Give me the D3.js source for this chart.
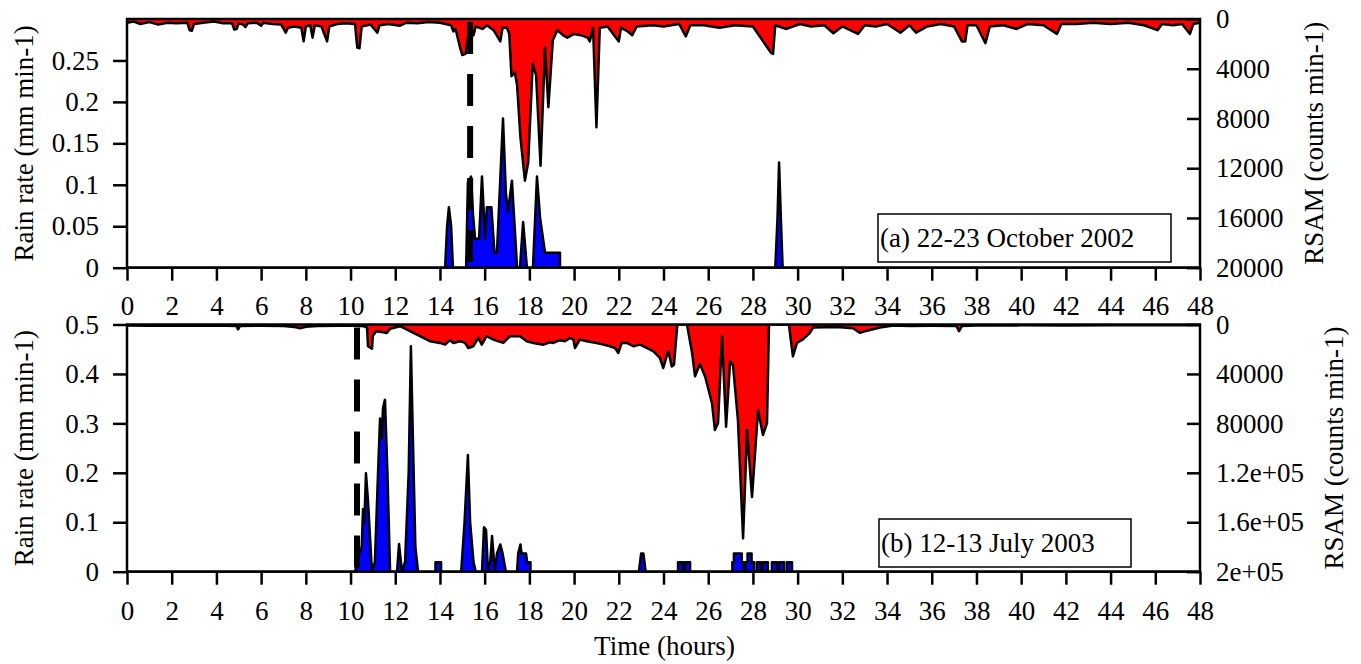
<!DOCTYPE html>
<html>
<head>
<meta charset="utf-8">
<script src="https://cdn.jsdelivr.net/npm/d3@7"></script>
<style>
  html, body { margin: 0; padding: 0; background: #fff; }
  svg { display: block; font-family: "Liberation Serif", "Times New Roman", serif; }
</style>
</head>
<body>
<svg id="chart" width="1361" height="664"></svg>
<script>
// ---- data: [hour, value] ----
const rsamA = [
  [0, 300], [0.3, 200], [0.6, 400], [1.0, 250], [1.4, 450], [1.8, 300], [2.2, 350], [2.7, 300],
  [2.8, 900], [2.9, 950], [3.0, 400], [3.4, 300], [3.9, 200], [4.3, 350], [4.7, 350], [4.8, 850],
  [4.9, 800], [5.0, 350], [5.2, 450], [5.3, 650], [5.4, 350], [5.8, 300], [6.0, 550], [6.1, 300],
  [6.5, 400], [6.9, 450], [7.1, 1100], [7.2, 700], [7.5, 600], [7.8, 700], [7.9, 1800], [8.0, 600],
  [8.2, 500], [8.3, 1500], [8.4, 500], [8.7, 600], [8.95, 1800], [9.05, 600], [9.4, 400], [9.8, 350],
  [10.2, 400], [10.3, 2300], [10.4, 2350], [10.5, 600], [10.9, 450], [11.2, 1100], [11.3, 500],
  [11.7, 400], [12.2, 550], [12.5, 300], [13.0, 350], [13.5, 250], [14.0, 300], [14.5, 500],
  [14.6, 1000], [14.7, 800], [14.9, 2300], [15.0, 2900], [15.15, 2800], [15.3, 1000], [15.5, 1300],
  [15.6, 600], [15.9, 800], [16.1, 500], [16.4, 900], [16.7, 1800], [16.8, 700], [17.0, 700],
  [17.1, 1200], [17.2, 4600], [17.35, 4300], [17.45, 5300], [17.6, 9500], [17.8, 13000],
  [17.95, 11500], [18.15, 3600], [18.3, 4500], [18.5, 11800], [18.7, 2300], [18.85, 7100],
  [19.05, 1700], [19.25, 900], [19.5, 1300], [19.7, 1500], [20.0, 1200], [20.3, 1300], [20.6, 1500],
  [20.7, 1800], [20.85, 700], [21.0, 8700], [21.15, 700], [21.5, 600], [22.0, 1800], [22.1, 700],
  [22.4, 1000], [22.6, 1300], [22.8, 600], [23.5, 500], [24.0, 600], [24.7, 400], [25.0, 1400],
  [25.2, 500], [25.8, 500], [26.5, 700], [27.2, 500], [28.0, 600], [28.8, 2700], [28.9, 2800],
  [29.0, 500], [29.5, 800], [30.1, 400], [30.6, 600], [31.2, 500], [31.6, 1150], [32.0, 600],
  [32.7, 1200], [33.0, 500], [33.5, 600], [34.0, 400], [34.6, 1100], [35.0, 500], [35.3, 1100],
  [35.8, 600], [36.4, 400], [37.0, 600], [37.35, 1800], [37.5, 1800], [37.6, 500], [38.0, 500],
  [38.4, 1950], [38.6, 600], [39.2, 500], [39.8, 800], [40.3, 400], [41.0, 500], [41.6, 1200],
  [41.8, 400], [42.5, 400], [43.2, 300], [44.0, 400], [44.8, 300], [45.5, 500], [46.1, 900],
  [46.3, 400], [46.8, 500], [47.2, 400], [47.55, 1200], [47.7, 400], [48, 300]
];

const rainA = [
  [0, 0], [14.23, 0], [14.32, 0.05], [14.4, 0.073], [14.5, 0.05], [14.58, 0],
  [15.17, 0], [15.25, 0.103], [15.39, 0.11], [15.48, 0.064], [15.57, 0.035], [15.75, 0.035],
  [15.88, 0.11], [16.02, 0.035], [16.1, 0.073], [16.3, 0.073], [16.44, 0.018], [16.55, 0.018],
  [16.82, 0.18], [16.95, 0.09], [17.04, 0.067], [17.22, 0.105], [17.45, 0], [17.58, 0],
  [17.72, 0.055], [17.89, 0], [18.16, 0], [18.34, 0.11], [18.48, 0.06], [18.7, 0.018],
  [19.37, 0.018], [19.37, 0], [29.0, 0], [29.1, 0.06], [29.17, 0.127], [29.25, 0.06],
  [29.33, 0], [48, 0]
];

const rsamB = [
  [0, 800], [1, 1000], [2, 800], [3, 1100], [4, 900], [4.9, 1200], [4.97, 4000], [5.05, 1200],
  [6, 1000], [7, 1200], [7.5, 2000], [7.74, 3000], [8.0, 1800], [8.5, 1200], [9.5, 1000],
  [10.29, 1000], [10.6, 1500], [10.74, 2400], [10.78, 17600], [10.96, 19500], [11.0, 9000],
  [11.15, 5400], [11.4, 6000], [11.62, 6800], [11.77, 3500], [12.21, 1400], [12.51, 4000],
  [12.81, 6800], [13.11, 9500], [13.55, 13500], [14.0, 14900], [14.23, 16300], [14.45, 12700],
  [14.6, 14900], [14.9, 13500], [15.12, 14900], [15.27, 19000], [15.49, 17600], [15.72, 10800],
  [15.87, 16300], [16.09, 9500], [16.39, 12200], [16.83, 14900], [17.13, 9500], [17.58, 9500],
  [17.88, 13500], [18.18, 14900], [18.63, 16300], [18.92, 14400], [19.07, 14900], [19.37, 12700],
  [19.59, 13500], [19.82, 10800], [19.97, 12200], [20.04, 19000], [20.26, 12200], [20.56, 13500],
  [21.01, 14900], [21.31, 16300], [21.61, 17600], [21.83, 19000], [21.98, 23000], [22.13, 14900],
  [22.35, 14900], [22.65, 17600], [22.95, 16300], [23.25, 19000], [23.55, 21700], [23.84, 27100],
  [23.99, 35200], [24.14, 25800], [24.22, 21700], [24.37, 33900], [24.47, 32500], [24.62, 0],
  [25.05, 0], [25.28, 23000], [25.41, 42000],
  [25.63, 32000], [25.86, 42000], [26.17, 63700], [26.3, 85400], [26.44, 79700], [26.62, 9500],
  [26.8, 82700], [26.98, 29800], [27.11, 33000], [27.33, 77200], [27.56, 173000], [27.74, 85400],
  [27.96, 139600], [28.23, 69100], [28.45, 89400], [28.63, 79700], [28.72, 0], [29.61, 0],
  [29.79, 25800], [29.97, 14900], [30.24, 12000], [30.55, 6750], [30.69, 2500], [31.76, 2000],
  [32.48, 3000], [32.79, 6750], [33.1, 5000], [33.69, 2500], [34.27, 800], [35, 1200], [36, 1000],
  [37.1, 1200], [37.22, 5400], [37.35, 1200], [38, 900], [39, 800], [40, 700], [42, 800],
  [44, 700], [46, 600], [48, 600]
];

const rainB = [
  [0, 0], [10.2, 0], [10.35, 0.03], [10.5, 0.05], [10.56, 0.127], [10.62, 0.1], [10.69, 0.199],
  [10.78, 0.144], [10.96, 0], [11.09, 0.02], [11.23, 0.2], [11.32, 0.31], [11.4, 0.27],
  [11.45, 0.33], [11.54, 0.348], [11.65, 0.2], [11.77, 0], [12.08, 0], [12.17, 0.056], [12.3, 0],
  [12.44, 0.02], [12.6, 0.2], [12.7, 0.456], [12.79, 0.27], [12.9, 0.05], [13.02, 0],
  [13.8, 0], [13.8, 0.019], [14.05, 0.019], [14.05, 0], [14.95, 0], [15.1, 0.1], [15.25, 0.236],
  [15.35, 0.1], [15.5, 0.02], [15.6, 0], [15.88, 0], [15.97, 0.09], [16.06, 0.085], [16.15, 0],
  [16.25, 0.02], [16.33, 0.072], [16.42, 0.02], [16.46, 0], [16.55, 0.037], [16.7, 0.055],
  [16.8, 0.037], [16.95, 0], [17.45, 0], [17.5, 0.037], [17.6, 0.055], [17.65, 0.037],
  [17.85, 0.037], [17.9, 0.019], [18.05, 0.019], [18.05, 0],
  [22.9, 0], [22.95, 0.019], [23.0, 0.037], [23.1, 0.037], [23.15, 0.019], [23.2, 0],
  [24.65, 0], [24.65, 0.019], [24.87, 0.019], [24.87, 0], [24.96, 0], [24.96, 0.019],
  [25.19, 0.019], [25.19, 0],
  [27.08, 0], [27.08, 0.019], [27.15, 0.019], [27.15, 0.037], [27.5, 0.037], [27.5, 0.019],
  [27.6, 0.019], [27.6, 0], [27.68, 0], [27.68, 0.019], [27.76, 0.019], [27.76, 0.037],
  [27.94, 0.037], [27.94, 0.019], [28.05, 0.019], [28.05, 0],
  [28.18, 0], [28.18, 0.019], [28.36, 0.019], [28.36, 0], [28.45, 0], [28.45, 0.019],
  [28.67, 0.019], [28.67, 0], [28.85, 0], [28.85, 0.019], [29.08, 0.019], [29.08, 0],
  [29.17, 0], [29.17, 0.019], [29.39, 0.019], [29.39, 0], [29.52, 0], [29.52, 0.019],
  [29.75, 0.019], [29.75, 0], [48, 0]
];

const hourTicks = d3.range(0, 49, 2);
const rainTicksA = [0, 0.05, 0.1, 0.15, 0.2, 0.25];
const rainTicksB = [0, 0.1, 0.2, 0.3, 0.4, 0.5];
const rsamTicksA = [0, 4000, 8000, 12000, 16000, 20000];
const rsamTicksB = [0, 40000, 80000, 120000, 160000, 200000];
const rsamLabelsB = ["0", "40000", "80000", "1.2e+05", "1.6e+05", "2e+05"];

// ---- layout ----
const left = 127, right = 1200;
const fontSize = 27;
const svg = d3.select("#chart");

const x = d3.scaleLinear().domain([0, 48]).range([left, right]);

const panels = [
  {
    id: "a", top: 19, bottom: 267.7, rainMax: 0.3, rsamMax: 20000,
    rain: rainA, rsam: rsamA, rainTicks: rainTicksA, rsamTicks: rsamTicksA,
    rsamFmt: d => String(d), onset: 15.35, xPad: 15.5, rTitleX: 1323,
    label: "(a) 22-23 October 2002", box: [878, 214, 293, 48]
  },
  {
    id: "b", top: 324.5, bottom: 571.7, rainMax: 0.5, rsamMax: 200000,
    rain: rainB, rsam: rsamB, rainTicks: rainTicksB, rsamTicks: rsamTicksB,
    rsamFmt: d => rsamLabelsB[rsamTicksB.indexOf(d)], onset: 10.29, xPad: 16.5, rTitleX: 1343,
    label: "(b) 12-13 July 2003", box: [879, 519, 252, 48]
  }
];

panels.forEach(p => {
  const yRain = d3.scaleLinear().domain([0, p.rainMax]).range([p.bottom, p.top]);
  const yRsam = d3.scaleLinear().domain([0, p.rsamMax]).range([p.top, p.bottom]);

  svg.append("clipPath").attr("id", "clip-" + p.id)
    .append("rect")
    .attr("x", left).attr("y", p.top)
    .attr("width", right - left).attr("height", p.bottom - p.top);

  const g = svg.append("g").attr("clip-path", `url(#clip-${p.id})`);

  // RSAM, hanging from the top
  g.append("path")
    .datum(p.rsam)
    .attr("fill", "#ff0000")
    .attr("d", d3.area().x(d => x(d[0])).y0(yRsam(0)).y1(d => yRsam(d[1])));
  g.append("path")
    .datum(p.rsam)
    .attr("fill", "none")
    .attr("stroke", "#000")
    .attr("stroke-width", 2.5)
    .attr("stroke-linejoin", "round")
    .attr("d", d3.line().x(d => x(d[0])).y(d => yRsam(d[1])));

  // rain rate, from the bottom
  g.append("path")
    .datum(p.rain)
    .attr("fill", "#0000ff")
    .attr("d", d3.area().x(d => x(d[0])).y0(yRain(0)).y1(d => yRain(d[1])));
  g.append("path")
    .datum(p.rain)
    .attr("fill", "none")
    .attr("stroke", "#000")
    .attr("stroke-width", 2.5)
    .attr("stroke-linejoin", "round")
    .attr("d", d3.line().x(d => x(d[0])).y(d => yRain(d[1])));

  // eruption onset marker
  g.append("line")
    .attr("x1", x(p.onset)).attr("x2", x(p.onset))
    .attr("y1", p.top + 3).attr("y2", p.bottom)
    .attr("stroke", "#000")
    .attr("stroke-width", 6)
    .attr("stroke-dasharray", "32,20");

  // frame
  svg.append("rect")
    .attr("x", left).attr("y", p.top)
    .attr("width", right - left).attr("height", p.bottom - p.top)
    .attr("fill", "none")
    .attr("stroke", "#000")
    .attr("stroke-width", 2.5);

  // left axis
  const axL = svg.append("g")
    .attr("transform", `translate(${left},0)`)
    .call(d3.axisLeft(yRain).tickValues(p.rainTicks).tickSize(14).tickPadding(14)
      .tickFormat(d3.format("~g")));

  // right axis, ticks inside
  const axR = svg.append("g")
    .attr("transform", `translate(${right},0)`)
    .call(d3.axisRight(yRsam).tickValues(p.rsamTicks).tickSize(-13).tickPadding(16)
      .tickFormat(p.rsamFmt));

  // bottom axis
  const axB = svg.append("g")
    .attr("transform", `translate(0,${p.bottom})`)
    .call(d3.axisBottom(x).tickValues(hourTicks).tickSize(13).tickPadding(p.xPad)
      .tickFormat(d3.format("d")));

  [axL, axR, axB].forEach(ax => {
    ax.select(".domain").remove();
    ax.selectAll("line").attr("stroke", "#000").attr("stroke-width", 2.5);
    ax.selectAll("text")
      .attr("fill", "#000")
      .style("font-family", "Liberation Serif")
      .style("font-size", fontSize + "px");
  });

  // axis titles
  const midY = (p.top + p.bottom) / 2;
  svg.append("text")
    .attr("transform", `translate(33,${midY}) rotate(-90)`)
    .attr("text-anchor", "middle")
    .style("font-size", fontSize + "px")
    .text("Rain rate (mm min-1)");
  svg.append("text")
    .attr("transform", `translate(${p.rTitleX},${midY}) rotate(-90)`)
    .attr("text-anchor", "middle")
    .style("font-size", fontSize + "px")
    .text("RSAM (counts min-1)");

  // panel label box
  const [bx, by, bw, bh] = p.box;
  svg.append("rect")
    .attr("x", bx).attr("y", by).attr("width", bw).attr("height", bh)
    .attr("fill", "#fff")
    .attr("stroke", "#000")
    .attr("stroke-width", 1.5);
  svg.append("text")
    .attr("x", bx + 2).attr("y", by + 33)
    .style("font-size", fontSize + "px")
    .text(p.label);
});

svg.append("text")
  .attr("x", (left + right) / 2 + 1)
  .attr("y", 655)
  .attr("text-anchor", "middle")
  .style("font-size", fontSize + "px")
  .text("Time (hours)");
</script>
</body>
</html>
